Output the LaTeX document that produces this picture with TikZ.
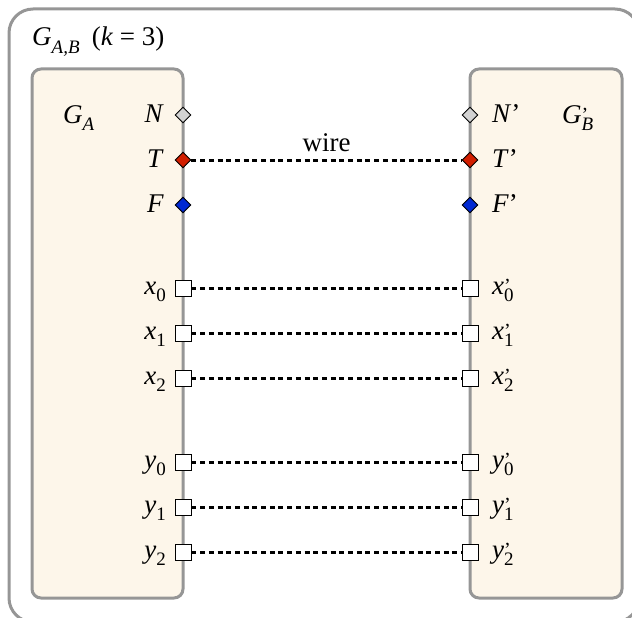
\documentclass[tikz,border=0pt]{standalone}
\usepackage{fontspec}
\setmainfont{Liberation Serif}
\usetikzlibrary{shapes.geometric}
\definecolor{boxfill}{RGB}{253,246,234}
\definecolor{boxline}{RGB}{150,150,150}
\definecolor{tred}{RGB}{210,30,0}
\definecolor{fblue}{RGB}{0,40,210}
\definecolor{ngray}{RGB}{210,210,210}
\newcommand\sbx[1]{\raisebox{-0.28em}{\fontsize{19}{19}\selectfont #1}}
\newcommand\spx[1]{\raisebox{0.06em}{\fontsize{20}{20}\selectfont #1}}
\newcommand\psb[1]{\rlap{\spx{’}}\sbx{#1}}
\tikzset{
  outerbox/.style={draw=boxline, line width=3pt, rounded corners=24pt},
  gadget/.style={draw=boxline, fill=boxfill, line width=3pt, rounded corners=9pt},
  port/.style={diamond, draw=black, line width=0.9pt, inner sep=0pt, minimum width=16pt, minimum height=16pt},
  vport/.style={rectangle, draw=black, fill=white, line width=0.9pt, inner sep=0pt, minimum width=16pt, minimum height=16pt},
  wire/.style={dashed, dash pattern=on 5pt off 3.7pt, line width=3pt},
  lab/.style={font=\fontsize{27}{30}\selectfont, inner sep=0pt},
}
\begin{document}
\begin{tikzpicture}[x=1pt,y=-1pt]
\useasboundingbox (0,0) rectangle (632,618);
\draw[outerbox] (9,9) rectangle (639,622);
\draw[gadget] (32,69) rectangle (183,598);
\draw[gadget] (470,69) rectangle (622,598);

\node[lab, anchor=base west] (title) at (32,46) {\textit{G}\sbx{\textit{A,B}}\hspace{0.45em}(\textit{k} = 3)};
\node[lab, anchor=base west] (ga) at (63,123) {\textit{G}\sbx{\textit{A}}};
\node[lab, anchor=base west] (gb) at (562,123) {\textit{G}\psb{\textit{B}}};

% left ports
\node[port, fill=ngray] (lN) at (183,115) {};
\node[port, fill=tred] (lT) at (183,160) {};
\node[port, fill=fblue] (lF) at (183,205) {};
\node[vport] (lx0) at (183,288) {};
\node[vport] (lx1) at (183,333) {};
\node[vport] (lx2) at (183,378) {};
\node[vport] (ly0) at (183,462) {};
\node[vport] (ly1) at (183,507) {};
\node[vport] (ly2) at (183,552) {};
% right ports
\node[port, fill=ngray] (rN) at (470,115) {};
\node[port, fill=tred] (rT) at (470,160) {};
\node[port, fill=fblue] (rF) at (470,205) {};
\node[vport] (rx0) at (470,288) {};
\node[vport] (rx1) at (470,333) {};
\node[vport] (rx2) at (470,378) {};
\node[vport] (ry0) at (470,462) {};
\node[vport] (ry1) at (470,507) {};
\node[vport] (ry2) at (470,552) {};

% left labels
\node[lab, anchor=base east] (llN) at (164,122) {\textit{N}};
\node[lab, anchor=base east] (llT) at (164,167) {\textit{T}};
\node[lab, anchor=base east] (llF) at (164,212) {\textit{F}};
\node[lab, anchor=base east] (llx0) at (166,294) {\textit{x}\sbx{0}};
\node[lab, anchor=base east] (llx1) at (166,339) {\textit{x}\sbx{1}};
\node[lab, anchor=base east] (llx2) at (166,384) {\textit{x}\sbx{2}};
\node[lab, anchor=base east] (lly0) at (166,468) {\textit{y}\sbx{0}};
\node[lab, anchor=base east] (lly1) at (166,513) {\textit{y}\sbx{1}};
\node[lab, anchor=base east] (lly2) at (166,558) {\textit{y}\sbx{2}};
% right labels
\node[lab, anchor=base west] (rlN) at (492,122) {\textit{N}’};
\node[lab, anchor=base west] (rlT) at (492,167) {\textit{T}’};
\node[lab, anchor=base west] (rlF) at (492,212) {\textit{F}’};
\node[lab, anchor=base west] (rlx0) at (492,294) {\textit{x}\psb{0}};
\node[lab, anchor=base west] (rlx1) at (492,339) {\textit{x}\psb{1}};
\node[lab, anchor=base west] (rlx2) at (492,384) {\textit{x}\psb{2}};
\node[lab, anchor=base west] (rly0) at (492,468) {\textit{y}\psb{0}};
\node[lab, anchor=base west] (rly1) at (492,513) {\textit{y}\psb{1}};
\node[lab, anchor=base west] (rly2) at (492,558) {\textit{y}\psb{2}};

% wires
\draw[wire] (lT.east) -- node[lab, above=7pt] (wl) {wire} (rT.west);
\draw[wire] (lx0.east) -- (rx0.west);
\draw[wire] (lx1.east) -- (rx1.west);
\draw[wire] (lx2.east) -- (rx2.west);
\draw[wire] (ly0.east) -- (ry0.west);
\draw[wire] (ly1.east) -- (ry1.west);
\draw[wire] (ly2.east) -- (ry2.west);
\end{tikzpicture}
\end{document}
